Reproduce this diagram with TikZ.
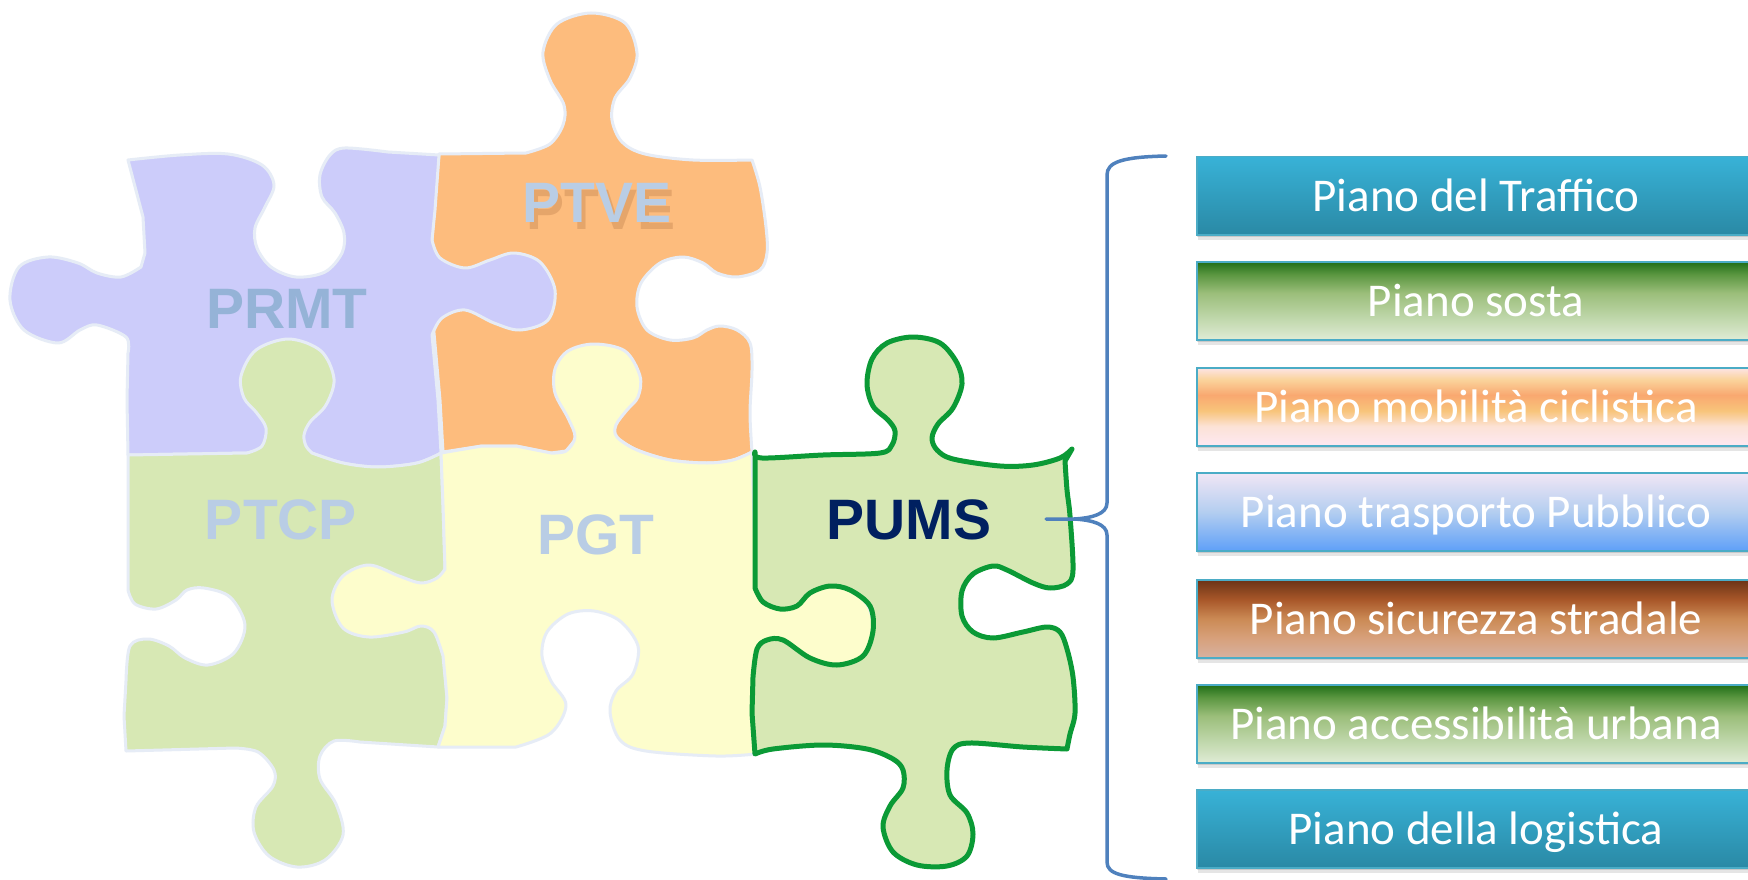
\documentclass[tikz,border=0pt]{standalone}
\usepackage{fontspec}
\newfontfamily\labfont{Liberation Sans}
\newfontfamily\boxfont{Carlito}
\definecolor{lav}{HTML}{CCCCFA}
\definecolor{orng}{HTML}{FDBC7D}
\definecolor{grn}{HTML}{D7E8B4}
\definecolor{yel}{HTML}{FDFDCC}
\definecolor{halo}{HTML}{E6ECF6}
\definecolor{pumsline}{HTML}{0B9A36}
\definecolor{labA}{HTML}{95B3D7}
\definecolor{labB}{HTML}{B9CDE5}
\definecolor{navy}{HTML}{002060}
\definecolor{boxline}{HTML}{4BACC6}
\definecolor{bracec}{HTML}{4F81BD}
\definecolor{tealT}{HTML}{38B2D7}
\definecolor{tealB}{HTML}{2A89A5}
\definecolor{gA}{HTML}{1F6E17}
\definecolor{gB}{HTML}{5A9640}
\definecolor{gC}{HTML}{9BBE7A}
\definecolor{gD}{HTML}{DFECD5}
\definecolor{oA}{HTML}{FDE4E6}
\definecolor{oB}{HTML}{FAD49C}
\definecolor{oC}{HTML}{F9A870}
\definecolor{oD}{HTML}{F8C47A}
\definecolor{oE}{HTML}{FCE2D6}
\definecolor{oF}{HTML}{FDE8F2}
\definecolor{bA}{HTML}{F1E6F5}
\definecolor{bB}{HTML}{B4CEF0}
\definecolor{bC}{HTML}{5FA0F8}
\definecolor{rA}{HTML}{6B3316}
\definecolor{rB}{HTML}{A9582A}
\definecolor{rC}{HTML}{CB8A55}
\definecolor{rD}{HTML}{D7A07A}
\definecolor{rE}{HTML}{D7B1A0}
\definecolor{shadowc}{HTML}{B07040}
\pgfdeclareverticalshading{shteal}{100bp}{color(0bp)=(tealB); color(25bp)=(tealB); color(75bp)=(tealT); color(100bp)=(tealT)}
\pgfdeclareverticalshading{shgreen}{100bp}{color(0bp)=(gD); color(25bp)=(gD); color(55bp)=(gC); color(67bp)=(gB); color(75bp)=(gA); color(100bp)=(gA)}
\pgfdeclareverticalshading{shorange}{100bp}{color(0bp)=(oF); color(25bp)=(oF); color(37.5bp)=(oE); color(47.5bp)=(oD); color(57.5bp)=(oC); color(67.5bp)=(oB); color(75bp)=(oA); color(100bp)=(oA)}
\pgfdeclareverticalshading{shblue}{100bp}{color(0bp)=(bC); color(25bp)=(bC); color(50bp)=(bB); color(75bp)=(bA); color(100bp)=(bA)}
\pgfdeclareverticalshading{shbrown}{100bp}{color(0bp)=(rE); color(25bp)=(rE); color(38bp)=(rD); color(50bp)=(rC); color(62bp)=(rB); color(75bp)=(rA); color(100bp)=(rA)}
\begin{document}
\begin{tikzpicture}[x=1pt,y=-1pt,
  piece/.style={draw=halo, line width=3pt, line join=round},
  pumsst/.style={draw=pumsline, line width=5pt, line join=round, fill=grn},
  lab/.style={font=\labfont\bfseries\fontsize{57}{60}\selectfont, inner sep=0pt, anchor=base},
  pbox/.style={rectangle, draw=boxline, line width=1.5pt, minimum width=560pt, minimum height=78pt, inner sep=0pt, anchor=north west},
  boxtxt/.style={font=\boxfont\fontsize{47}{50}\selectfont, text=white, inner sep=0pt, anchor=base},
  brace/.style={draw=bracec, line width=3.5pt, line cap=round, line join=round}]
\useasboundingbox (0,0) rectangle (1748,880);
\fill[white] (0,0) rectangle (1748,880);

% PTVE
\path[piece, fill=orng] (439,154) -- (526,153)
 -- plot[smooth,tension=.55] coordinates {(526,153) (550,144) (563,125) (564,105) (550,80) (543,52) (557,24) (591,13) (625,23) (637,53) (630,78) (615,98) (612,120) (622,142) (645,154) (693,160) (752,160)}
 -- plot[smooth,tension=.55] coordinates {(752,160) (760,187) (766,227) (767,253) (760,270) (737,277) (717,273) (703,263) (683,257) (660,263) (641,283) (637,307) (647,330) (670,340) (693,338) (707,330) (720,326) (737,330) (750,343) (752,370) (750,413) (752,452)}
 -- plot[smooth,tension=.55] coordinates {(752,452) (733,460) (707,463) (670,460) (637,450) (620,440)}
 -- (575,440) -- (566,451) -- (551,453) -- (516,446) -- (482,446) -- (443,452)
 -- (440,400) -- (434,333) -- (431,253) -- (435,200) -- cycle;

% PRMT
\path[piece, fill=lav] (128,160)
 -- plot[smooth,tension=.55] coordinates {(128,160) (180,155) (228,154) (262,165) (274,185) (265,207) (255,228) (257,248) (271,267) (296,277) (325,272) (342,253) (344,233) (335,213) (322,197) (320,175) (330,155) (345,148) (388,152)}
 -- (439,155) -- (435,210) -- (432,240)
 -- plot[smooth,tension=.55] coordinates {(432,240) (440,258) (465,268) (490,260) (514,253) (540,262) (555,290) (548,320) (520,330) (494,323) (465,310) (442,318) (432,335)}
 -- (438,400) -- (441,453)
 -- plot[smooth,tension=.55] coordinates {(441,453) (417,463) (378,467) (343,463) (312,453)}
 -- (300,450) -- (260,450) -- (247,453) -- (128,455) -- (127,400) -- (128,353)
 -- plot[smooth,tension=.55] coordinates {(128,353) (126,337) (97,325) (80,330) (58,343) (24,330) (10,300) (19,267) (48,257) (78,263) (97,273) (121,277) (141,267)}
 -- (145,253) -- (143,217) -- cycle;

% PTCP
\path[piece, fill=grn] (128,455) -- (247,453)
 -- plot[smooth,tension=.55] coordinates {(247,453) (262,446) (266,428) (256,412) (244,398) (241,376) (256,350) (289,339) (321,351) (334,379) (326,405) (310,422) (304,435) (306,446) (312,453)}
 -- plot[smooth,tension=.55] coordinates {(312,453) (343,463) (378,467) (417,463) (441,453)}
 -- (443,505) -- (445,569) -- (447,620) -- (444,660) -- (447,698) -- (445,726) -- (438,747) -- (360,742)
 -- plot[smooth,tension=.55] coordinates {(360,742) (334,741) (320,756) (320,779) (336,804) (343,835) (325,860) (297,867) (269,856) (254,832) (256,807) (273,786) (274,770) (258,752) (235,748)}
 -- (126,751) -- (124,716) -- (126,681)
 -- plot[smooth,tension=.55] coordinates {(126,681) (130,646) (148,639) (169,646) (185,658) (208,665) (234,653) (245,625) (230,597) (204,588) (187,590) (176,600) (156,609) (135,604) (128,590)}
 -- cycle;

% PGT
\path[piece, fill=yel] (441,453) -- (482,446) -- (516,446) -- (551,453)
 -- plot[smooth,tension=.55] coordinates {(551,453) (566,451) (575,437) (568,418) (555,393) (555,369) (568,351) (594,344) (625,351) (640,376) (638,397) (627,410) (616,425) (617,437) (637,450) (670,460) (707,463) (733,460) (752,452)}
 -- (754,520) -- (756,588)
 -- plot[smooth,tension=.55] coordinates {(756,588) (763,602) (780,609) (797,606) (810,593) (830,586) (850,590) (868,606) (873,631) (863,656) (837,665) (810,658) (783,640) (767,640) (757,649)}
 -- (754,677) -- (753,713) -- (756,754)
 -- plot[smooth,tension=.55] coordinates {(756,754) (716,756) (646,751) (620,740) (610,712) (616,691) (633,674) (638,646) (620,621) (594,611) (568,614) (547,632) (542,656) (551,681) (566,705) (551,733) (516,747)}
 -- (438,747) -- (445,726) -- (447,698) -- (443,656)
 -- plot[smooth,tension=.55] coordinates {(443,656) (434,632) (421,626) (404,632) (369,637) (343,628) (332,600) (343,576) (369,565) (399,576) (421,583) (437,578) (445,569)}
 -- (443,505) -- cycle;

% PUMS
\path[pumsst] (755,452)
 -- plot[smooth,tension=.55] coordinates {(755,452) (762,458) (823,455) (880,453) (892,445) (895,431) (888,420) (873,406) (867,384) (872,359) (887,343) (913,337) (940,343) (957,363) (962,384) (953,408) (938,424) (932,438) (937,450) (953,459) (1000,466) (1033,465) (1060,458) (1072,449)}
 -- (1065,461)
 -- plot[smooth,tension=.55] coordinates {(1065,461) (1067,490) (1070,516) (1073,570) (1067,584) (1050,588) (1033,583) (1007,570) (993,566) (973,574) (962,591) (962,616) (973,632) (993,638) (1023,632) (1047,627) (1060,632) (1067,649) (1073,677) (1075,713) (1070,734) (1067,749)}
 -- plot[smooth,tension=.55] coordinates {(1067,749) (1023,747) (970,743) (953,749) (947,770) (950,795) (967,813) (973,834) (967,856) (947,866) (917,865) (893,852) (883,827) (890,806) (903,788) (903,770) (893,759) (867,749) (823,745) (773,749) (755,754)}
 -- (752,713) -- (753,677)
 -- plot[smooth,tension=.55] coordinates {(753,677) (757,649) (767,640) (783,640) (810,658) (837,665) (863,656) (873,631) (870,606) (850,590) (830,586) (810,593) (797,606) (780,609) (763,602) (755,588)}
 -- cycle;

% labels
\node[lab, text=labA] (prmt) at (287,328) {PRMT};
\node[lab, text=shadowc, opacity=.3] (ptvesh) at (601,229) {PTVE};
\node[lab, text=labB] (ptve) at (597,222) {PTVE};
\node[lab, text=labB] (ptcp) at (281,539) {PTCP};
\node[lab, text=labB] (pgt) at (596,554) {PGT};
\node[lab, text=navy] (pums) at (909,539) {PUMS};

% boxes
\foreach \top/\sh/\txt/\n in {156/shteal/{Piano del Traffico}/1, 261/shgreen/{Piano sosta}/2, 367/shorange/{Piano mobilità ciclistica}/3, 472/shblue/{Piano trasporto Pubblico}/4, 579/shbrown/{Piano sicurezza stradale}/5, 684/shgreen/{Piano accessibilità urbana}/6, 789/shteal/{Piano della logistica}/7}{
  \fill[black, opacity=.10] (1198,\top+4) rectangle (1760,\top+84);
  \fill[black, opacity=.12] (1197,\top+3) rectangle (1760,\top+81);
  \node[pbox, shading=\sh] (box\n) at (1196,\top) {};
  \node[boxtxt] (txt\n) at (1476,\top+55) {\txt};
}

% bracket
\coordinate (brT) at (1166,156);
\coordinate (brB) at (1166,879);
\coordinate (brM) at (1074,519);
\coordinate (tip) at (1046,519);
\draw[brace] (brT) .. controls (1122,157) and (1107,162) .. (1107,175) -- (1107,503) .. controls (1107,514) and (1092,518) .. (brM) -- (tip);
\draw[brace] (brM) .. controls (1092,520) and (1107,524) .. (1107,535) -- (1107,862) .. controls (1107,874) and (1122,878) .. (brB);
\end{tikzpicture}
\end{document}
